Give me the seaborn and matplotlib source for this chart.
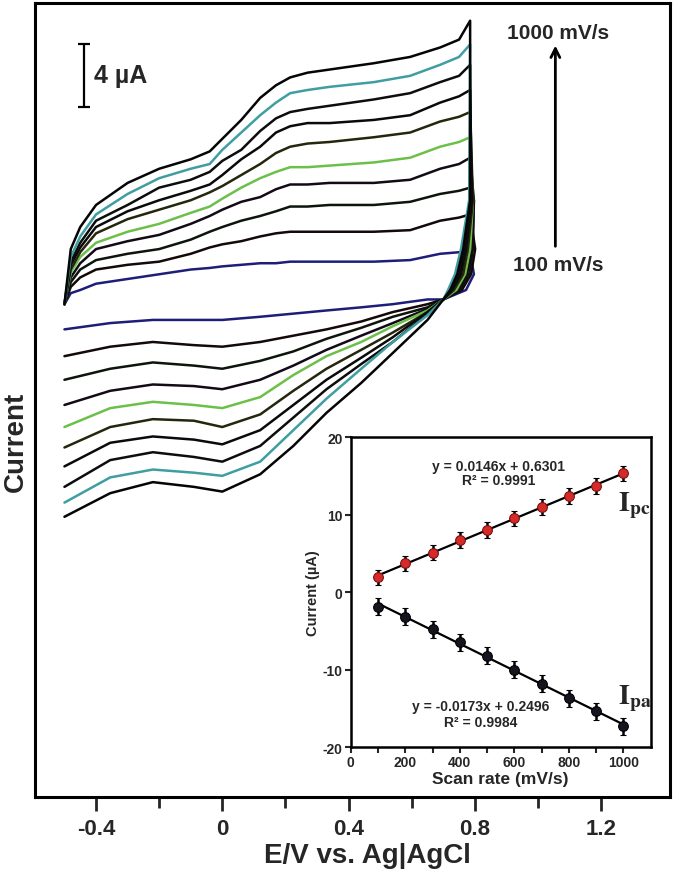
import numpy as np
import pandas as pd
import matplotlib
matplotlib.use('Agg')
import matplotlib.pyplot as plt
import seaborn as sns

# scan rates (mV/s) of the ten voltammograms, slowest first
scan_rates = [100, 200, 300, 400, 500, 600, 700, 800, 900, 1000]

# forward (upper) branch: potential (V) and current (uA) per scan rate
E_fwd = [-0.50, -0.48, -0.45, -0.40, -0.30, -0.20, -0.10, -0.04, 0.0, 0.06, 0.12, 0.17,
         0.215, 0.27, 0.34, 0.48, 0.595, 0.69, 0.75, 0.785]
fwd_100 = [-0.3, 0.4, 0.6, 1.0, 1.3, 1.6, 1.9, 2.0, 2.1, 2.2, 2.3, 2.3, 2.4, 2.4, 2.4, 2.4, 2.5, 2.9, 3.0, 3.0]
fwd_200 = [-0.3, 0.8, 1.4, 1.9, 2.2, 2.4, 2.9, 3.3, 3.5, 3.7, 4.0, 4.2, 4.3, 4.3, 4.3, 4.3, 4.4, 5.0, 5.2, 5.4]
fwd_300 = [-0.3, 1.1, 1.9, 2.5, 2.9, 3.2, 3.8, 4.3, 4.6, 5.0, 5.3, 5.6, 5.9, 5.9, 6.0, 6.0, 6.2, 6.7, 6.9, 7.1]
fwd_400 = [-0.3, 1.4, 2.3, 3.2, 3.7, 4.1, 4.8, 5.3, 5.7, 6.2, 6.5, 7.0, 7.3, 7.3, 7.4, 7.4, 7.6, 8.3, 8.6, 9.0]
fwd_500 = [-0.3, 1.7, 2.7, 3.6, 4.3, 4.8, 5.5, 5.9, 6.4, 7.1, 7.7, 8.1, 8.4, 8.4, 8.5, 8.7, 9.0, 9.7, 10.0, 10.3]
fwd_600 = [-0.3, 1.9, 3.0, 4.2, 5.1, 5.7, 6.3, 6.8, 7.2, 7.9, 8.6, 9.3, 9.7, 9.9, 10.0, 10.3, 10.6, 11.3, 11.6, 11.9]
fwd_700 = [-0.3, 2.2, 3.3, 4.6, 5.6, 6.3, 6.9, 7.3, 7.9, 8.9, 9.7, 10.6, 11.0, 11.2, 11.2, 11.4, 11.7, 12.5, 12.9, 13.3]
fwd_800 = [-0.3, 2.4, 3.6, 5.0, 6.0, 7.1, 7.6, 8.1, 8.8, 9.5, 10.7, 11.5, 11.9, 12.1, 12.3, 12.7, 13.1, 13.8, 14.2, 14.9]
fwd_900 = [-0.3, 2.7, 4.0, 5.4, 6.7, 7.7, 8.3, 8.6, 9.5, 10.6, 11.7, 12.5, 13.1, 13.3, 13.5, 13.8, 14.2, 14.9, 15.4, 16.2]
fwd_1000 = [-0.3, 3.2, 4.6, 6.0, 7.4, 8.3, 8.9, 9.4, 10.2, 11.4, 12.8, 13.6, 14.1, 14.4, 14.6, 15.0, 15.4, 16.0, 16.5, 17.7]

# switching edge: current levels (uA) and the potential (V) of each curve there
I_ret = [6.3, 3.2, 1.6, 0.6, 0.0]
ret_100 = [0.800, 0.800, 0.797, 0.772, 0.70]
ret_200 = [0.800, 0.801, 0.788, 0.759, 0.70]
ret_300 = [0.797, 0.794, 0.782, 0.753, 0.70]
ret_400 = [0.797, 0.791, 0.775, 0.747, 0.70]
ret_500 = [0.794, 0.785, 0.769, 0.741, 0.70]
ret_600 = [0.794, 0.778, 0.763, 0.734, 0.70]
ret_700 = [0.791, 0.772, 0.756, 0.728, 0.70]
ret_800 = [0.788, 0.769, 0.750, 0.725, 0.70]
ret_900 = [0.782, 0.756, 0.737, 0.715, 0.70]
ret_1000 = [0.785, 0.763, 0.744, 0.722, 0.70]

# reverse (lower) branch
E_rev = [0.65, 0.54, 0.44, 0.33, 0.225, 0.12, 0.0, -0.09, -0.22, -0.355, -0.50]
rev_100 = [0.0, -0.3, -0.5, -0.7, -0.9, -1.1, -1.3, -1.3, -1.3, -1.5, -1.9]
rev_200 = [-0.3, -0.8, -1.4, -1.9, -2.3, -2.7, -3.0, -2.9, -2.7, -3.0, -3.6]
rev_300 = [-0.5, -1.1, -1.8, -2.5, -3.3, -3.9, -4.4, -4.2, -4.0, -4.4, -5.1]
rev_400 = [-0.6, -1.5, -2.3, -3.2, -4.2, -5.1, -5.7, -5.5, -5.4, -5.8, -6.7]
rev_500 = [-0.7, -1.7, -2.7, -3.6, -4.8, -6.2, -6.9, -6.7, -6.5, -6.9, -8.1]
rev_600 = [-0.8, -2.1, -3.2, -4.4, -5.8, -7.3, -8.1, -7.7, -7.6, -8.1, -9.4]
rev_700 = [-0.8, -2.4, -3.7, -5.1, -6.7, -8.3, -9.2, -8.9, -8.7, -9.1, -10.6]
rev_800 = [-0.9, -2.7, -4.1, -5.7, -7.5, -9.3, -10.3, -10.0, -9.7, -10.2, -11.9]
rev_900 = [-1.0, -2.7, -4.4, -6.3, -8.3, -10.3, -11.2, -11.0, -10.8, -11.3, -12.9]
rev_1000 = [-1.3, -3.4, -5.3, -7.2, -9.3, -11.1, -12.2, -11.9, -11.6, -12.3, -13.8]

curve_colors = ['#1e1e78', '#140808', '#0c140c', '#120a16', '#6cc04a',
                '#26260e', '#0a0a0a', '#0d0d0d', '#3f9ea2', '#050505']

# inset: peak currents vs scan rate
Ipc = [1.9, 3.7, 5.1, 6.7, 8.0, 9.5, 11.0, 12.4, 13.7, 15.3]
Ipa = [-1.9, -3.2, -4.8, -6.5, -8.2, -10.0, -11.8, -13.7, -15.4, -17.3]
Ipc_err = [1.0, 1.0, 1.0, 1.0, 1.0, 1.0, 1.0, 1.0, 1.0, 1.0]
Ipa_err = [1.1, 1.1, 1.1, 1.1, 1.1, 1.1, 1.1, 1.1, 1.1, 1.1]

sns.set_style('ticks')
plt.rcParams['font.family'] = ['Liberation Sans', 'DejaVu Sans']
plt.rcParams['axes.unicode_minus'] = False

fig = plt.figure(figsize=(6.75, 8.78), dpi=100)
ax = fig.add_axes([0.052, 0.091, 0.941, 0.904])

fwds = [fwd_100, fwd_200, fwd_300, fwd_400, fwd_500, fwd_600, fwd_700, fwd_800, fwd_900, fwd_1000]
rets = [ret_100, ret_200, ret_300, ret_400, ret_500, ret_600, ret_700, ret_800, ret_900, ret_1000]
revs = [rev_100, rev_200, rev_300, rev_400, rev_500, rev_600, rev_700, rev_800, rev_900, rev_1000]

for k in range(len(scan_rates)):
    E = list(E_fwd)
    I = list(fwds[k])
    for e, i in zip(rets[k], I_ret):
        if i < fwds[k][-1]:
            E.append(e)
            I.append(i)
    E += E_rev
    I += revs[k]
    df = pd.DataFrame({'E': E, 'I': I})
    sns.lineplot(data=df, x='E', y='I', sort=False, estimator=None,
                 color=curve_colors[k], lw=1.8, ax=ax)

ax.set_xlim(-0.593, 1.419)
ax.set_ylim(-31.6, 18.8)
ax.set_yticks([])
ax.set_xticks([-0.4, 0, 0.4, 0.8, 1.2])
ax.set_xticklabels(['-0.4', '0', '0.4', '0.8', '1.2'])
ax.set_xticks([-0.2, 0.2, 0.6, 1.0], minor=True)
ax.tick_params(axis='x', which='major', direction='out', length=10, width=2, pad=5)
ax.tick_params(axis='x', which='minor', direction='out', length=8, width=2)
for lab in ax.get_xticklabels():
    lab.set_fontweight('bold')
    lab.set_fontsize(16)
for sp in ax.spines.values():
    sp.set_visible(True)
    sp.set_linewidth(2.2)
    sp.set_color('black')

ax.set_xlabel('E/V vs. Ag|AgCl', fontsize=20, fontweight='bold')
ax.xaxis.set_label_coords(0.524, -0.056)
ax.set_ylabel('Current', fontsize=20, fontweight='bold')
ax.yaxis.set_label_coords(-0.01, 0.449)

# 4 uA scale bar
ax.errorbar([-0.437], [14.25], yerr=[2.0], fmt='none', ecolor='black',
            elinewidth=1.6, capsize=4, capthick=1.6)
ax.text(-0.405, 14.25, '4 µA', fontsize=18, fontweight='bold', ha='left', va='center')

# scan rate arrow
ax.annotate('', xy=(1.055, 16.3), xytext=(1.055, 3.2),
            arrowprops=dict(arrowstyle='->', lw=2, color='black', mutation_scale=16))
ax.text(1.065, 16.95, '1000 mV/s', fontsize=15, fontweight='bold', ha='center', va='center')
ax.text(1.065, 2.2, '100 mV/s', fontsize=15, fontweight='bold', ha='center', va='center')

# inset
ins = fig.add_axes([0.5196, 0.148, 0.4444, 0.3531])
ins.set_facecolor('white')
sns.regplot(x=scan_rates, y=Ipc, ci=None, scatter=False, color='black',
            line_kws={'lw': 1.6}, ax=ins)
sns.regplot(x=scan_rates, y=Ipa, ci=None, scatter=False, color='black',
            line_kws={'lw': 1.6}, ax=ins)
ins.errorbar(scan_rates, Ipc, yerr=Ipc_err, fmt='o', color='#d42a2a', mec='#7a1010',
             mew=0.8, ms=7, ecolor='black', elinewidth=1.8, capsize=2.5, capthick=1.8, zorder=3)
ins.errorbar(scan_rates, Ipa, yerr=Ipa_err, fmt='o', color='#151520', mec='black',
             mew=0.8, ms=7, ecolor='black', elinewidth=1.8, capsize=2.5, capthick=1.8, zorder=3)
ins.set_xlim(0, 1100)
ins.set_ylim(-20, 20)
ins.set_xticks([0, 200, 400, 600, 800, 1000])
ins.set_xticks([100, 300, 500, 700, 900], minor=True)
ins.set_yticks([-20, -10, 0, 10, 20])
ins.tick_params(which='both', direction='out', length=4, width=1.5, labelsize=10, pad=2)
for lab in ins.get_xticklabels() + ins.get_yticklabels():
    lab.set_fontweight('bold')
for sp in ins.spines.values():
    sp.set_visible(True)
    sp.set_linewidth(1.8)
    sp.set_color('black')
ins.set_xlabel('Scan rate (mV/s)', fontsize=12.5, fontweight='bold', labelpad=1)
ins.set_ylabel('Current (µA)', fontsize=10.5, fontweight='bold', labelpad=2)

ins.text(543, 16.3, 'y = 0.0146x + 0.6301', fontsize=10, fontweight='bold', ha='center', va='center')
ins.text(543, 14.4, 'R² = 0.9991', fontsize=10, fontweight='bold', ha='center', va='center')
ins.text(477, -14.7, 'y = -0.0173x + 0.2496', fontsize=10, fontweight='bold', ha='center', va='center')
ins.text(477, -16.8, 'R² = 0.9984', fontsize=10, fontweight='bold', ha='center', va='center')
ins.text(980, 11.3, r'$\mathbf{I}_{\mathbf{pc}}$', fontsize=20, math_fontfamily='stix',
         ha='left', va='center')
ins.text(980, -13.6, r'$\mathbf{I}_{\mathbf{pa}}$', fontsize=20, math_fontfamily='stix',
         ha='left', va='center')

fig.savefig('out.png', dpi=100, facecolor='white')
